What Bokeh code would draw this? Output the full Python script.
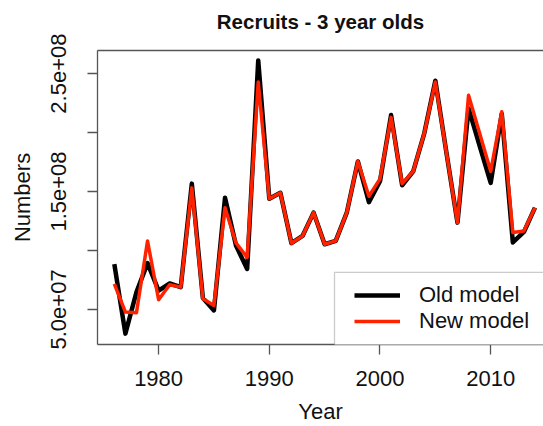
from bokeh.plotting import figure
from bokeh.models import (Range1d, FixedTicker, LinearAxis, Legend, LegendItem,
                          BoxAnnotation)
from bokeh.embed import file_html
from bokeh.resources import INLINE

# ---- data ----
years = list(range(1976, 2015))
old_model = [8.85e7, 2.95e7, 6.47e7, 8.93e7, 6.6e7, 7.2e7, 6.89e7, 1.567e8, 5.96e7, 4.92e7,
             1.447e8, 1.039e8, 8.43e7, 2.612e8, 1.438e8, 1.489e8, 1.062e8, 1.123e8, 1.321e8,
             1.053e8, 1.081e8, 1.321e8, 1.755e8, 1.41e8, 1.587e8, 2.149e8, 1.553e8, 1.671e8,
             1.994e8, 2.44e8, 1.83e8, 1.236e8, 2.205e8, 1.888e8, 1.573e8, 2.16e8, 1.068e8,
             1.157e8, 1.363e8]
new_model = [7.17e7, 4.78e7, 4.72e7, 1.08e8, 5.82e7, 7.1e7, 6.89e7, 1.531e8, 5.9e7, 5.34e7,
             1.363e8, 1.062e8, 9.41e7, 2.429e8, 1.438e8, 1.489e8, 1.062e8, 1.123e8, 1.321e8,
             1.053e8, 1.081e8, 1.321e8, 1.755e8, 1.46e8, 1.607e8, 2.129e8, 1.567e8, 1.671e8,
             1.994e8, 2.429e8, 1.83e8, 1.236e8, 2.317e8, 1.994e8, 1.671e8, 2.176e8, 1.152e8,
             1.166e8, 1.363e8]
x_ticks = [1980, 1990, 2000, 2010]
y_ticks = [5e7, 1e8, 1.5e8, 2e8, 2.5e8]
y_tick_labels = {5e7: "5.0e+07", 1e8: "", 1.5e8: "1.5e+08", 2e8: "", 2.5e8: "2.5e+08"}
title_text = "Recruits - 3 year olds"
x_label = "Year"
y_label = "Numbers"
series_names = ["Old model", "New model"]

FONT = "Liberation Sans"
GREY = "#555555"

W, H = 543, 426
FL, FT, FB = 97, 50, 80
frame_w = W - FL
frame_h = H - FT - FB

x0, x1 = 1974.48, 2014.77
y0, y1 = 2.026e7, 2.696e8
px_per_x = frame_w / (x1 - x0)
px_per_y = frame_h / (y1 - y0)

p = figure(width=W, height=H, output_backend="svg", toolbar_location=None,
           x_range=Range1d(x0, x1), y_range=Range1d(y0, y1),
           min_border_left=FL, min_border_top=FT, min_border_bottom=FB,
           min_border_right=0, title=None)
p.background_fill_color = "white"
p.border_fill_color = "white"
p.outline_line_color = None
p.grid.visible = False

r_old = p.line(years, old_model, line_color="black", line_width=4.5, line_join="round")
r_new = p.line(years, new_model, line_color="#ff2200", line_width=3.5, line_join="round")

# axes
xa = p.xaxis[0]
xa.ticker = FixedTicker(ticks=x_ticks)
xa.major_tick_out = 10
xa.major_tick_in = 0
xa.minor_tick_line_color = None
xa.axis_line_color = GREY
xa.major_tick_line_color = GREY
xa.axis_line_width = 1.3
xa.major_tick_line_width = 1.3
xa.major_label_text_font = FONT
xa.major_label_text_font_size = "22px"
xa.major_label_text_color = "#111111"
xa.major_label_standoff = 16
xa.axis_label = x_label
xa.axis_label_text_font = FONT
xa.axis_label_text_font_size = "22px"
xa.axis_label_text_font_style = "normal"
xa.axis_label_text_color = "#111111"
xa.axis_label_standoff = 10

ya = p.yaxis[0]
ya.ticker = FixedTicker(ticks=y_ticks)
ya.major_label_overrides = y_tick_labels
ya.major_label_orientation = "vertical"
ya.major_tick_out = 10
ya.major_tick_in = 0
ya.minor_tick_line_color = None
ya.axis_line_color = GREY
ya.major_tick_line_color = GREY
ya.axis_line_width = 1.3
ya.major_tick_line_width = 1.3
ya.major_label_text_font = FONT
ya.major_label_text_font_size = "22px"
ya.major_label_text_color = "#111111"
ya.major_label_standoff = 21
ya.axis_label = y_label
ya.axis_label_text_font = FONT
ya.axis_label_text_font_size = "22px"
ya.axis_label_text_font_style = "normal"
ya.axis_label_text_color = "#111111"
ya.axis_label_standoff = 14

# top edge of the box, carrying the chart title as its label
top = LinearAxis(ticker=FixedTicker(ticks=[]), axis_line_color=GREY, axis_line_width=1.3,
                 major_tick_line_color=None, minor_tick_line_color=None,
                 major_tick_out=0, major_tick_in=0,
                 major_label_text_font_size="0px", major_label_standoff=0,
                 axis_label=title_text, axis_label_text_font=FONT,
                 axis_label_text_font_size="20.5px", axis_label_text_font_style="bold",
                 axis_label_text_color="#111111", axis_label_standoff=18)
p.add_layout(top, "above")

# legend frame
box = BoxAnnotation(left=x0 + (334 - 97) / px_per_x, right=x1 + 10,
                    bottom=y0 - 1e7, top=y0 + (346 - 273.3) / px_per_y,
                    fill_color="white", fill_alpha=1.0, line_color=GREY, line_width=1.3)
p.add_layout(box)

legend = Legend(items=[LegendItem(label=series_names[0], renderers=[r_old]),
                       LegendItem(label=series_names[1], renderers=[r_new])],
                location=(257, 10), padding=0, margin=0, spacing=0,
                glyph_width=46, glyph_height=24, label_height=24, label_standoff=19,
                label_text_font=FONT, label_text_font_size="22px",
                label_text_color="#111111", label_text_line_height=1.0,
                border_line_color=None, background_fill_alpha=0)
p.add_layout(legend)

open("out.html", "w").write(file_html(p, INLINE))
